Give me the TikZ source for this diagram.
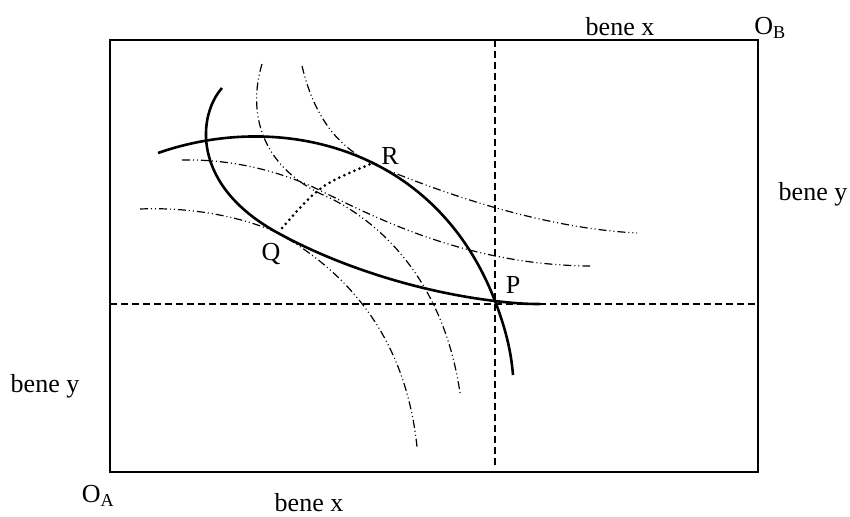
\documentclass[tikz,border=0pt]{standalone}
\usepackage{fontspec}
\setmainfont{Liberation Serif}
\begin{document}
\begin{tikzpicture}[x=1pt,y=-1pt,
  lbl/.style={font=\fontsize{26}{30}\selectfont, inner sep=0pt},
  frame/.style={line width=2pt},
  guide/.style={line width=1.8pt, dash pattern=on 7pt off 4pt},
  thickcurve/.style={line width=2.6pt},
  indiff/.style={line width=1.2pt, dash pattern=on 8pt off 3pt on 1pt off 3pt on 1pt off 3pt},
  dotline/.style={line width=3pt, line cap=round, dash pattern=on 0pt off 5.5pt}]
\useasboundingbox (0,0) rectangle (850,516);
% frame
\coordinate (OA) at (110,472);
\coordinate (OB) at (758,40);
\draw[frame] (OA) rectangle (OB);
% guide lines through P
\coordinate (P) at (495,301);
\coordinate (vt) at (495,40);
\coordinate (vb) at (495,466);
\coordinate (hl) at (110,304);
\coordinate (hr) at (758,304);
\draw[guide] (vt) -- (vb);
\draw[guide] (hl) -- (hr);
% points of tangency
\coordinate (Q) at (278,233);
\coordinate (R) at (380,167);
% indifference curves (thin dash-dot)
\draw[indiff] (140,209) .. controls (190,207) and (240,216) .. (Q)
              .. controls (340,268) and (405,330) .. (417,447);
\draw[indiff] (262,64) .. controls (248,110) and (258,168) .. (330,198)
              .. controls (390,228) and (445,290) .. (460,393);
\draw[indiff] (302,66) .. controls (315,120) and (340,150) .. (R)
              .. controls (440,192) and (540,228) .. (637,233);
\draw[indiff] (182,160) .. controls (230,159) and (275,170) .. (313,187)
              .. controls (365,212) and (460,265) .. (590,266);
% thick curves
\draw[thickcurve] (158,153) .. controls (278,111) and (435,145) .. (P)
                  .. controls (505,327) and (511,350) .. (513,375);
\draw[thickcurve] (222,88) .. controls (198,115) and (190,185) .. (Q)
                  .. controls (340,267) and (420,292) .. (P)
                  .. controls (518,303.8) and (530,304) .. (540,304);
% dotted connector Q-R
\coordinate (Qd) at (282,228);
\coordinate (Rd) at (373,163);
\draw[dotline] (Qd) .. controls (320,185) .. (Rd);
% labels
\node[lbl] (lR) at (390,156) {R};
\node[lbl] (lQ) at (271,254) {Q};
\node[lbl] (lP) at (513,285) {P};
\node[lbl] (bxt) at (620,27) {bene x};
\node[lbl] (lOB) at (770,28) {O\textsubscript{B}};
\node[lbl] (byr) at (813,194) {bene y};
\node[lbl] (byl) at (45,386) {bene y};
\node[lbl] (lOA) at (98,496) {O\textsubscript{A}};
\node[lbl] (bxb) at (309,503) {bene x};
\end{tikzpicture}
\end{document}
